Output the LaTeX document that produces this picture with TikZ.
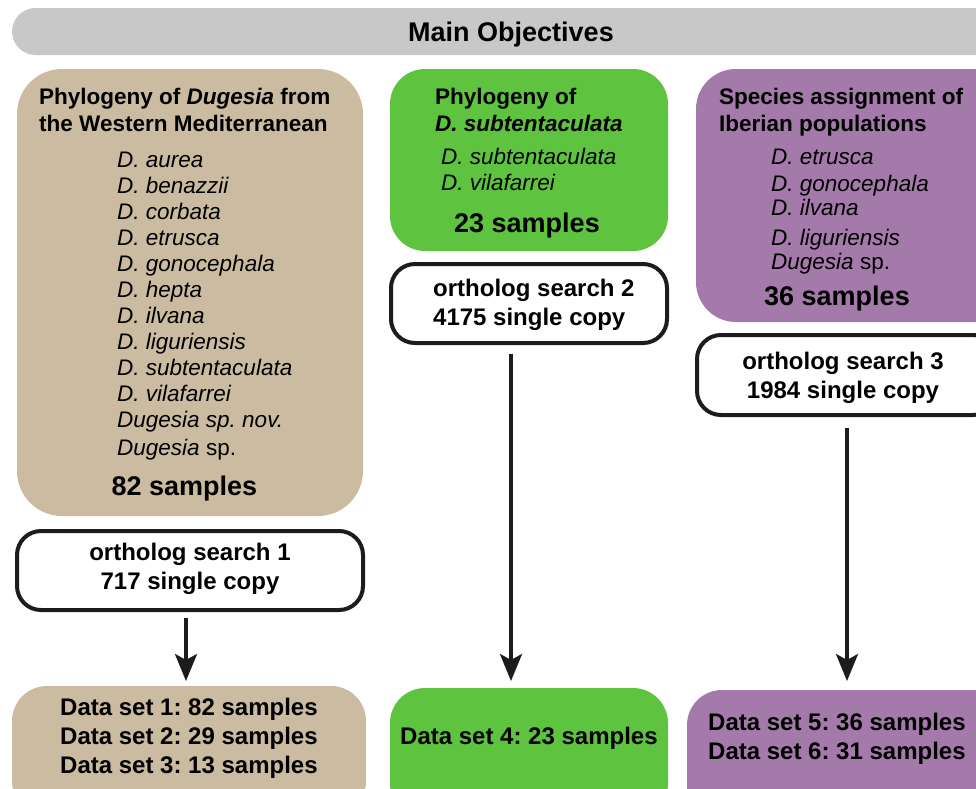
\documentclass[tikz,border=0pt]{standalone}
\usepackage{fontspec}
\setmainfont{Liberation Sans}
\usetikzlibrary{arrows.meta,positioning}
\definecolor{mainobj}{RGB}{200,200,200}
\definecolor{westmed}{RGB}{203,187,161}
\definecolor{subtent}{RGB}{94,195,62}
\definecolor{iberia}{RGB}{164,122,170}
\definecolor{inkdark}{RGB}{28,28,28}
\frenchspacing

\begin{document}
\begin{tikzpicture}[x=1pt,y=-1pt,
 panel/.style={anchor=north west,inner sep=0pt,outer sep=0pt},
 search/.style={anchor=north west,inner sep=0pt,draw=inkdark,line width=4pt,fill=white,rounded corners=24pt,minimum height=79pt},
 head/.style={anchor=base west,inner sep=0pt,align=left,font=\bfseries\fontsize{22.5}{27}\selectfont},
 taxa/.style={anchor=base west,inner sep=0pt,align=left,font=\itshape\fontsize{22.5}{26}\selectfont},
 count/.style={anchor=base,inner sep=0pt,font=\bfseries\fontsize{27}{32}\selectfont},
 stat/.style={anchor=base,inner sep=0pt,align=center,font=\bfseries\fontsize{24}{29}\selectfont},
 arr/.style={-{Stealth[length=27pt,width=22pt,inset=6pt]},line width=3.5pt,draw=inkdark}]
\clip (0,0) rectangle (976,788);
\node[panel,fill=mainobj,rounded corners=23.5pt,minimum width=1040pt,minimum height=47pt] (obj) at (12,8) {};
\node[count] (objt) at (511,41) {Main Objectives};

\node[panel,fill=westmed,rounded corners=45pt,minimum width=346pt,minimum height=447pt] (med) at (17,69) {};
\node[panel,fill=subtent,rounded corners=35pt,minimum width=278pt,minimum height=182pt] (sub) at (390,69) {};
\node[panel,fill=iberia,rounded corners=40pt,minimum width=330pt,minimum height=253pt] (iber) at (696,69) {};

\node[head] (medh) at (39,131) {Phylogeny of \textit{Dugesia} from\\the Western Mediterranean};
\node[taxa] (medl) at (117,455) {D. aurea\\D. benazzii\\D. corbata\\D. etrusca\\D. gonocephala\\D. hepta\\D. ilvana\\D. liguriensis\\D. subtentaculata\\D. vilafarrei\\Dugesia sp. nov.\\[2pt]Dugesia \textup{sp.}};
\node[count] (medn) at (184.5,495) {82 samples};

\node[head] (subh) at (435,131) {Phylogeny of\\\textit{D. subtentaculata}};
\node[taxa] (subl) at (441,190) {D. subtentaculata\\D. vilafarrei};
\node[count] (subn) at (527,232) {23 samples};

\node[head] (iberh) at (719,131) {Species assignment of\\Iberian populations};
\node[taxa] (iberl) at (771,269) {D. etrusca\\[1pt]D. gonocephala\\[-2pt]D. ilvana\\[4pt]D. liguriensis\\[-2pt]Dugesia \textup{sp.}};
\node[count] (ibern) at (837,305) {36 samples};

\node[search,minimum width=346pt] (o1) at (15,529) {};
\node[search,minimum width=276pt] (o2) at (389,262) {};
\node[search,minimum width=300pt,minimum height=80pt] (o3) at (695,333) {};
\node[stat] (o1t) at (190,589) {ortholog search 1\\717 single copy};
\node[stat,anchor=base west,align=left] (o2t) at (433,325) {ortholog search 2\\4175 single copy};
\node[stat] (o3t) at (843,398) {ortholog search 3\\1984 single copy};

\node[panel,fill=westmed,rounded corners=35pt,minimum width=354pt,minimum height=130pt] (d1) at (12,686) {};
\node[panel,fill=subtent,rounded corners=35pt,minimum width=278pt,minimum height=130pt] (d4) at (390,688) {};
\node[panel,fill=iberia,rounded corners=35pt,minimum width=320pt,minimum height=130pt] (d5) at (687,690) {};
\node[stat,anchor=base west,align=left] (d1t) at (60,773) {Data set 1: 82 samples\\Data set 2: 29 samples\\Data set 3: 13 samples};
\node[stat,anchor=base west] (d4t) at (400,744.5) {Data set 4: 23 samples};
\node[stat,anchor=base west,align=left] (d5t) at (708,759) {Data set 5: 36 samples\\Data set 6: 31 samples};

\draw[arr,shorten <=6pt,shorten >=5pt] ([xshift=-4pt]o1.south) -- ([xshift=-4pt]o1.south |- d1.north);
\draw[arr,shorten <=9pt,shorten >=7pt] ([xshift=-18pt]o2.south) -- ([xshift=-18pt]o2.south |- d4.north);
\draw[arr,shorten <=11pt,shorten >=9pt] (o3.south) -- (o3.south |- d5.north);
\end{tikzpicture}
\end{document}
